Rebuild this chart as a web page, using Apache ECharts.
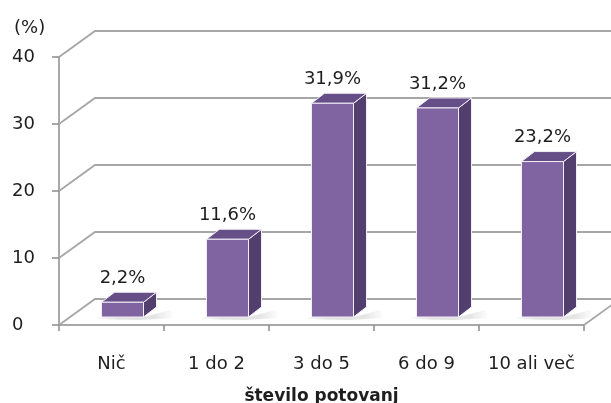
<!DOCTYPE html>
<html><head><meta charset="utf-8">
<script src="https://cdn.jsdelivr.net/npm/echarts@6/dist/echarts.min.js"></script>
<style>html,body{margin:0;padding:0;background:#fff}#c{width:611px;height:403px}</style>
</head><body><div id="c"></div>
<script>
var categories = ['Nič', '1 do 2', '3 do 5', '6 do 9', '10 ali več'];
var values = [2.2, 11.6, 31.9, 31.2, 23.2];
var yTicks = [0, 10, 20, 30, 40];
var xTitle = 'število potovanj';
var yTitle = '(%)';

var FONT = 'DejaVu Sans';
var TXT = '#1e1e1e';
var WALL_DX = 36, WALL_DY = -26;   // depth of the chart box
var BAR_DX = 11, BAR_DY = -8;      // bar front plane offset
var BD_X = 13, BD_Y = -10;         // bar depth

var chart = echarts.init(document.getElementById('c'), null, {renderer: 'canvas'});

function fmt(v) { return v.toFixed(1).replace('.', ',') + '%'; }

chart.setOption({
  animation: false,
  title: {text: yTitle, left: 9, top: 14, textStyle: {fontFamily: FONT, fontSize: 18, fontWeight: 'normal', color: TXT}},
  grid: {left: 59, right: 27, top: 57, bottom: 78, containLabel: false, outerBoundsMode: 'none'},
  xAxis: {
    type: 'category', data: categories,
    axisLine: {show: true, lineStyle: {color: '#8c8c8c', width: 1.5}},
    axisTick: {show: true, length: 6, lineStyle: {color: '#8c8c8c', width: 1.5}},
    axisLabel: {interval: 0, margin: 30, fontFamily: FONT, fontSize: 18, color: TXT},
    name: xTitle, nameLocation: 'middle', nameGap: 63,
    nameTextStyle: {fontFamily: FONT, fontSize: 17, fontWeight: 'bold', color: TXT}
  },
  yAxis: {
    type: 'value', min: 0, max: 40, interval: 10,
    axisLine: {show: true, lineStyle: {color: '#8c8c8c', width: 1.5}},
    axisTick: {show: true, length: 7, lineStyle: {color: '#8c8c8c', width: 1.5}},
    axisLabel: {margin: 47, align: 'left', fontFamily: FONT, fontSize: 18, color: TXT},
    splitLine: {show: false}
  },
  series: [
    {
      type: 'custom', z: 1, silent: true,
      data: yTicks.map(function (t) { return [0, t]; }),
      renderItem: function (params, api) {
        var v = api.value(1);
        var band = api.size([1, 0])[0];
        var p = api.coord([0, v]);
        var x0 = p[0] - band / 2;
        var y0 = p[1];
        var xr = api.coord([categories.length - 1, v])[0] + band / 2;
        var children = [{
          type: 'polyline',
          shape: {points: [[x0, y0], [x0 + WALL_DX, y0 + WALL_DY], [xr + WALL_DX + 20, y0 + WALL_DY]]},
          style: {stroke: '#a6a6a6', lineWidth: 1.8, fill: null}
        }];
        if (v === 0) {
          children.push({
            type: 'line',
            shape: {x1: xr, y1: y0, x2: xr + WALL_DX, y2: y0 + WALL_DY},
            style: {stroke: '#a6a6a6', lineWidth: 1.8}
          });
        }
        return {type: 'group', children: children};
      }
    },
    {
      type: 'custom', z: 3, silent: true,
      data: values.map(function (v, i) { return [i, v]; }),
      renderItem: function (params, api) {
        var i = api.value(0), v = api.value(1);
        var band = api.size([1, 0])[0];
        var w = band * 0.4;
        var top = api.coord([i, v]);
        var base = api.coord([i, 0]);
        var cx = top[0] + BAR_DX;
        var xl = cx - w / 2, xr = cx + w / 2;
        var yt = top[1] + BAR_DY, yb = base[1] + BAR_DY;
        var edge = {stroke: '#f2eef7', lineWidth: 1, lineJoin: 'round'};
        return {
          type: 'group',
          children: [
            {
              type: 'polygon',
              shape: {points: [[xr, yb], [xr + BD_X + 14, yb + BD_Y + 3], [xr + BD_X + 18, yb + 1], [xr - 4, yb + 3], [xl - 8, yb + 2], [xl - 3, yb]]},
              style: {fill: {type: 'linear', x: 0, y: 0, x2: 1, y2: 0, colorStops: [
                {offset: 0, color: 'rgba(150,150,150,0.0)'},
                {offset: 0.3, color: 'rgba(150,150,150,0.3)'},
                {offset: 0.75, color: 'rgba(150,150,150,0.25)'},
                {offset: 1, color: 'rgba(150,150,150,0.0)'}]}}
            },
            {
              type: 'polygon',
              shape: {points: [[xr, yt], [xr + BD_X, yt + BD_Y], [xr + BD_X, yb + BD_Y], [xr, yb]]},
              style: Object.assign({fill: '#523f6d'}, edge)
            },
            {
              type: 'polygon',
              shape: {points: [[xl, yt], [xl + BD_X, yt + BD_Y], [xr + BD_X, yt + BD_Y], [xr, yt]]},
              style: Object.assign({fill: '#664e86'}, edge)
            },
            {
              type: 'rect',
              shape: {x: xl, y: yt, width: w, height: yb - yt},
              style: Object.assign({fill: '#8064a2'}, edge)
            },
            {
              type: 'text',
              style: {text: fmt(v), x: cx, y: yt - 24, align: 'center', verticalAlign: 'middle',
                      font: '18px "' + FONT + '"', fill: TXT}
            }
          ]
        };
      }
    }
  ]
});
</script></body></html>
